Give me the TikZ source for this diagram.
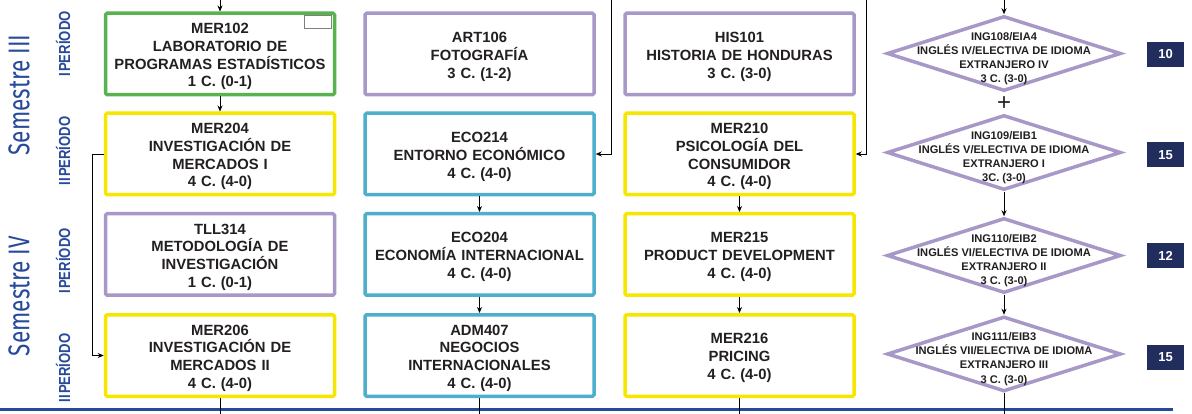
\documentclass[tikz,border=0pt]{standalone}
\usepackage{fontspec}
\usepackage{graphicx}
\setmainfont{Liberation Sans}
\newfontfamily\semfont{Fira Sans}
\usetikzlibrary{shapes.geometric,arrows.meta}
\definecolor{cursogreen}{RGB}{88,178,80}
\definecolor{cursoyellow}{RGB}{247,230,0}
\definecolor{cursopurple}{RGB}{168,152,200}
\definecolor{cursoteal}{RGB}{77,175,203}
\definecolor{crednavy}{RGB}{33,45,92}
\definecolor{semblue}{RGB}{39,74,155}
\definecolor{textgray}{RGB}{35,31,32}
\begin{document}
\begin{tikzpicture}[x=1pt,y=-1pt,
    curso/.style={draw=#1, line width=3.5pt, rounded corners=1.5pt, fill=white,
      minimum width=229pt, minimum height=81.5pt, inner sep=0pt, text width=226pt,
      align=center, text=textgray, font=\fontsize{14.8}{17.8}\selectfont\bfseries,
      execute at begin node={\rule{0pt}{15.5pt}}},
    ingles/.style={shape=diamond, draw=cursopurple, line width=3.5pt, fill=white,
      minimum width=234pt, minimum height=75pt, inner sep=0pt},
    inglestext/.style={align=center, text=textgray, inner sep=0pt,
      font=\fontsize{11.1}{14.2}\selectfont\bfseries},
    credbox/.style={fill=crednavy, text=white, minimum width=37pt, minimum height=25pt,
      inner sep=0pt, font=\fontsize{13}{13}\selectfont\bfseries},
    semlabel/.style={rotate=90, text=semblue, inner sep=0pt, font=\fontsize{30}{30}\semfont},
    periodo/.style={rotate=90, text=semblue, inner sep=0pt, font=\fontsize{16}{16}\selectfont\bfseries},
    flow/.style={draw=black, line width=0.8pt, -{Stealth[length=6pt,width=5pt]}},
    plainline/.style={draw=black, line width=0.8pt}]

    \useasboundingbox (0,0) rectangle (1192,414);

    \coordinate (in1) at (220,0);
    \coordinate (in2) at (611,0);
    \coordinate (in3) at (866,0);
    \coordinate (in4) at (1004,0);
    \coordinate (out1) at (220,414);
    \coordinate (out2) at (479.5,414);
    \coordinate (out3) at (739.5,414);
    \coordinate (out4) at (1004,414);

    \node[semlabel] (sem3) at (19,95) {\scalebox{0.75}[1]{Semestre III}};
    \node[semlabel] (sem4) at (19,296) {\scalebox{0.75}[1]{Semestre IV}};
    \node[periodo] (per1) at (63,44) {\scalebox{0.82}[1]{I\kern1.5pt PERÍODO}};
    \node[periodo] (per2) at (63,151) {\scalebox{0.82}[1]{II\kern1.5pt PERÍODO}};
    \node[periodo] (per3) at (63,261) {\scalebox{0.82}[1]{I\kern1.5pt PERÍODO}};
    \node[periodo] (per4) at (63,368) {\scalebox{0.82}[1]{II\kern1.5pt PERÍODO}};

    \node[curso=cursogreen] (mer102) at (220,54) {MER102\\LABORATORIO DE\\PROGRAMAS ESTADÍSTICOS\\1 C. (0-1)};
    \node[curso=cursopurple] (art106) at (479.5,54) {ART106\\FOTOGRAFÍA\\3 C. (1-2)};
    \node[curso=cursopurple] (his101) at (739.5,54) {HIS101\\HISTORIA DE HONDURAS\\3 C. (3-0)};
    \node[curso=cursoyellow] (mer204) at (220,154) {MER204\\INVESTIGACIÓN DE\\MERCADOS I\\4 C. (4-0)};
    \node[curso=cursoteal] (eco214) at (479.5,154) {ECO214\\ENTORNO ECONÓMICO\\4 C. (4-0)};
    \node[curso=cursoyellow] (mer210) at (739.5,154) {MER210\\PSICOLOGÍA DEL\\CONSUMIDOR\\4 C. (4-0)};
    \node[curso=cursopurple] (tll314) at (220,254.5) {TLL314\\METODOLOGÍA DE\\INVESTIGACIÓN\\1 C. (0-1)};
    \node[curso=cursoteal] (eco204) at (479.5,254.5) {ECO204\\ECONOMÍA INTERNACIONAL\\4 C. (4-0)};
    \node[curso=cursoyellow] (mer215) at (739.5,254.5) {MER215\\PRODUCT DEVELOPMENT\\4 C. (4-0)};
    \node[curso=cursoyellow] (mer206) at (220,355.5) {MER206\\INVESTIGACIÓN DE\\MERCADOS II\\4 C. (4-0)};
    \node[curso=cursoteal] (adm407) at (479.5,355.5) {ADM407\\NEGOCIOS\\INTERNACIONALES\\4 C. (4-0)};
    \node[curso=cursoyellow] (mer216) at (739.5,355.5) {MER216\\PRICING\\4 C. (4-0)};

    \node[draw=gray, line width=0.8pt, fill=white, minimum width=27pt, minimum height=13pt, inner sep=0pt] (tag) at (318,22) {};

    \node[ingles] (ing108) at (1004,53.5) {};
    \node[ingles] (ing109) at (1004,152.5) {};
    \node[ingles] (ing110) at (1004,255.5) {};
    \node[ingles] (ing111) at (1004,354) {};
    \node[inglestext] at (1004,58.5) {ING108/EIA4\\INGLÉS IV/ELECTIVA DE IDIOMA\\EXTRANJERO IV\\3 C. (3-0)};
    \node[inglestext] at (1004,157.5) {ING109/EIB1\\INGLÉS V/ELECTIVA DE IDIOMA\\EXTRANJERO I\\3C. (3-0)};
    \node[inglestext] at (1004,260.5) {ING110/EIB2\\INGLÉS VI/ELECTIVA DE IDIOMA\\EXTRANJERO II\\3 C. (3-0)};
    \node[inglestext] at (1004,359) {ING111/EIB3\\INGLÉS VII/ELECTIVA DE IDIOMA\\EXTRANJERO III\\3 C. (3-0)};
    \node[text=textgray, inner sep=0pt, font=\fontsize{24}{24}\selectfont] (plus) at (1004,104) {+};

    \node[credbox] (cred1) at (1165.5,54.5) {10};
    \node[credbox] (cred2) at (1165.5,155) {15};
    \node[credbox] (cred3) at (1165.5,256) {12};
    \node[credbox] (cred4) at (1165.5,357) {15};

    \draw[flow] (in1) -- (mer102);
    \draw[flow] (mer102) -- (mer204);
    \draw[flow] (mer204.west) -- ++(-11,0) |- (mer206.west);
    \draw[flow] (in2) |- (eco214);
    \draw[flow] (eco214) -- (eco204);
    \draw[flow] (eco204) -- (adm407);
    \draw[flow] (in3) |- (mer210);
    \draw[flow] (mer210) -- (mer215);
    \draw[flow] (mer215) -- (mer216);
    \draw[flow] (in4) -- (ing108);
    \draw[flow] (ing110) -- (ing111);
    \draw[flow] (ing109) -- (ing110);

    \draw[draw=semblue, line width=3pt] (0,409) -- (1173,409);
    \draw[plainline] (mer206) -- (out1);
    \draw[plainline] (adm407) -- (out2);
    \draw[plainline] (mer216) -- (out3);
    \draw[plainline] (ing111) -- (out4);
\end{tikzpicture}
\end{document}
